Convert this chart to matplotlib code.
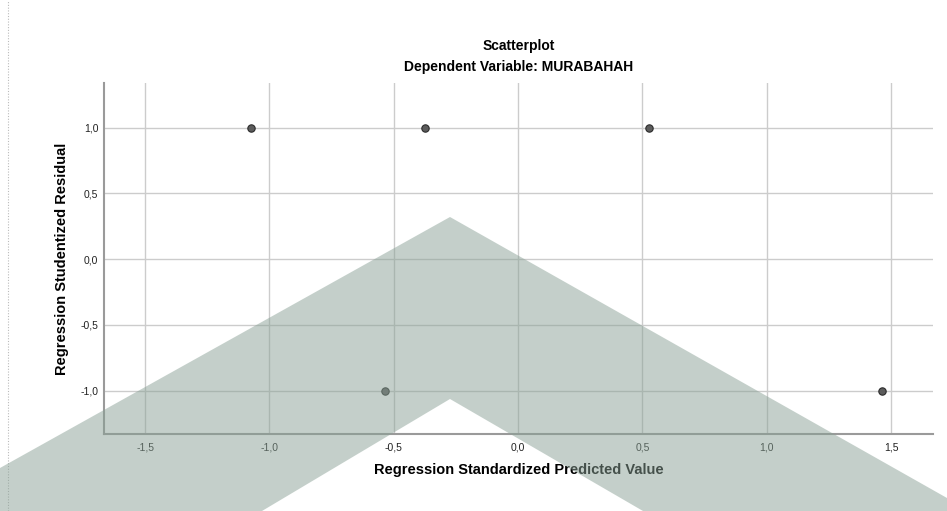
"""
SPSS-style residual scatterplot: studentized residual vs standardized predicted value.
"""

import matplotlib

matplotlib.use("Agg")
import matplotlib.pyplot as plt
from matplotlib.patches import Polygon
from matplotlib.lines import Line2D
from matplotlib.ticker import FuncFormatter, MultipleLocator

plt.rcParams["font.family"] = ["Liberation Sans", "DejaVu Sans"]

# data
predicted = [-1.073, -0.374, 0.527, -0.535, 1.463]
residual = [1.0, 1.0, 1.0, -1.0, -1.0]

TITLE = "Scatterplot"
SUBTITLE = "Dependent Variable: MURABAHAH"
XLABEL = "Regression Standardized Predicted Value"
YLABEL = "Regression Studentized Residual"

GRID = "#cccccc"
SPINE = "#9a9a9a"
POINT = "#5c5c5c"
WATERMARK = (0.54, 0.63, 0.59)

W, H = 947, 511


def comma(v, _pos):
    return f"{v:.1f}".replace(".", ",")


def main():
    fig = plt.figure(figsize=(W / 100, H / 100), dpi=100, facecolor="white")
    ax = fig.add_axes([104 / W, 1 - 434 / H, (933 - 104) / W, (434 - 83) / H])

    ax.scatter(predicted, residual, s=28, color=POINT, edgecolors="#2a2a2a",
               linewidths=0.8, zorder=3)

    ax.set_xlim(-1.665, 1.668)
    ax.set_ylim(-1.33, 1.34)
    ax.xaxis.set_major_locator(MultipleLocator(0.5))
    ax.yaxis.set_major_locator(MultipleLocator(0.5))
    ax.xaxis.set_major_formatter(FuncFormatter(comma))
    ax.yaxis.set_major_formatter(FuncFormatter(comma))
    ax.tick_params(length=0, labelsize=7.5, colors="#222222")
    ax.tick_params(axis="x", pad=6)
    ax.tick_params(axis="y", pad=4)
    ax.grid(True, color=GRID, linewidth=1.0, zorder=0)
    ax.set_axisbelow(True)
    ax.spines[["top", "right"]].set_visible(False)
    for s in ("left", "bottom"):
        ax.spines[s].set_color(SPINE)
        ax.spines[s].set_linewidth(1.5)

    ax.set_xlabel(XLABEL, fontsize=10.5, fontweight="bold", labelpad=8)
    ax.set_ylabel(YLABEL, fontsize=10.5, fontweight="bold", labelpad=8)

    cx = (104 + 933) / 2 / W
    fig.text(cx, 1 - 46 / H, TITLE, ha="center", va="center",
             fontsize=10, fontweight="bold")
    fig.text(cx, 1 - 67 / H, SUBTITLE, ha="center", va="center",
             fontsize=10, fontweight="bold")

    # dotted frame line on the left edge
    fig.add_artist(Line2D([8 / W, 8 / W], [0, 1], color="#bbbbbb",
                          linewidth=0.8, linestyle=(0, (1, 1.5))))

    # grey chevron watermark over the chart
    pts = [(0, 468), (450, 217), (947, 498), (947, 511), (643, 511),
           (450, 399), (262, 511), (0, 511)]
    poly = Polygon([(x / W, 1 - y / H) for x, y in pts], closed=True,
                   transform=fig.transFigure, facecolor=WATERMARK,
                   edgecolor="none", alpha=0.5, zorder=10)
    fig.add_artist(poly)

    fig.savefig("out.png", dpi=100, facecolor="white")
    plt.close(fig)


if __name__ == "__main__":
    main()
